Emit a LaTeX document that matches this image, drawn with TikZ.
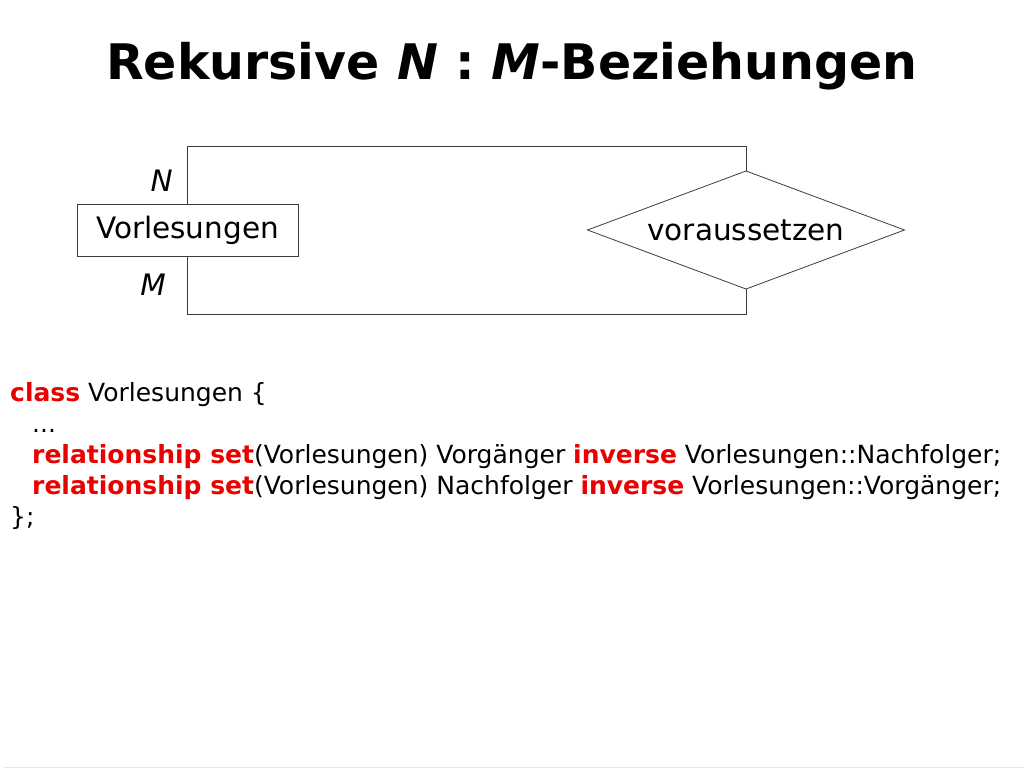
\documentclass[tikz,border=0pt]{standalone}
\usepackage{fontspec}
\setmainfont{DejaVu Sans}
\usetikzlibrary{shapes.geometric, positioning}
\definecolor{kwred}{RGB}{235,0,0}
\definecolor{linegray}{RGB}{60,60,60}
\newcommand{\kw}[1]{\textcolor{kwred}{\textbf{#1}}}

\begin{document}
\begin{tikzpicture}[x=1pt, y=-1pt,
	entity/.style={draw=linegray, line width=0.8pt, minimum width=221pt, minimum height=52pt,
		inner sep=0pt, outer sep=0pt, font=\fontsize{29.5}{36}\selectfont},
	relship/.style={diamond, draw=linegray, line width=0.8pt, aspect=2.69, minimum width=317pt,
		minimum height=118pt, inner sep=0pt, outer sep=0pt, font=\fontsize{29.5}{36}\selectfont},
	conn/.style={draw=linegray, line width=0.8pt},
	card/.style={inner sep=0pt, anchor=east, font=\fontsize{29.5}{36}\selectfont\itshape},
	code/.style={inner sep=0pt, anchor=base west, font=\fontsize{25}{30}\selectfont}]
	\useasboundingbox (0,0) rectangle (1024,768);
	\node [font=\bfseries\fontsize{49}{58}\selectfont] (title) at (512,66)
		{Rekursive \textit{N} : \textit{M}-Beziehungen};
	% ER diagram
	\node [entity] (vorl) at (187.5,230) {Vorlesungen};
	\node [relship] (vor) at (746,230) {voraussetzen};
	\draw [conn] (vorl.north) -- ++(0,-58) -| (vor.north);
	\draw [conn] (vorl.south) -- ++(0,58) -| (vor.south);
	\node [card] (n) at (173,181) {N};
	\node [card] (m) at (166,285) {M};
	% ODL code
	\node [code] (l1) at (10,401) {\kw{class} Vorlesungen \{};
	\node [code] (l2) at (32,432) {...};
	\node [code] (l3) at (32,463) {\kw{relationship set}(Vorlesungen) Vorgänger \kw{inverse} Vorlesungen::Nachfolger;};
	\node [code] (l4) at (32,494) {\kw{relationship set}(Vorlesungen) Nachfolger \kw{inverse} Vorlesungen::Vorgänger;};
	\node [code] (l5) at (10,525) {\};};
	\draw [black!10, line width=1pt] (4,767.5) -- (1024,767.5);
\end{tikzpicture}
\end{document}
